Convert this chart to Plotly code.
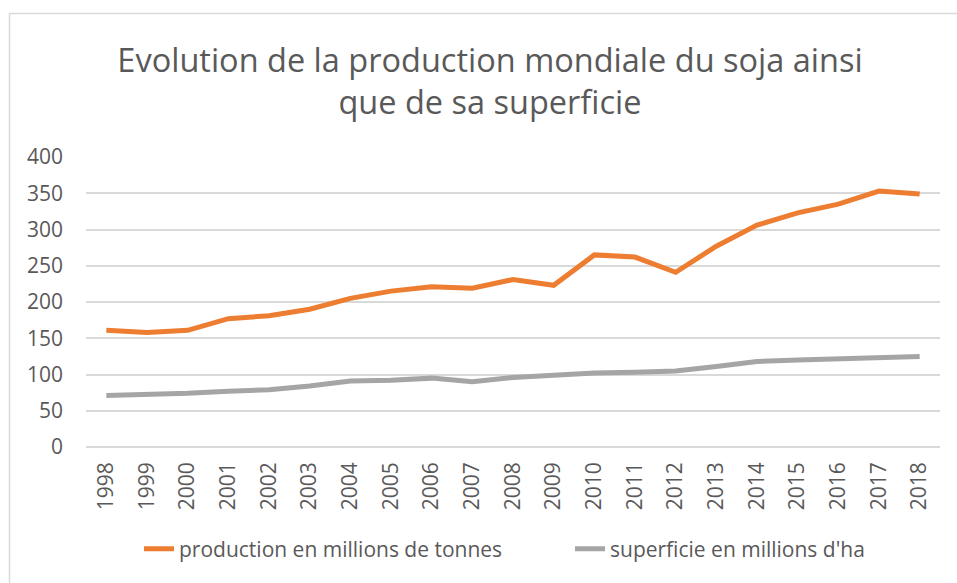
import plotly.graph_objects as go

years = [str(y) for y in range(1998, 2019)]
production = [161, 158, 161, 177, 181, 190, 205, 215, 221, 219, 231,
              223, 265, 262, 241, 277, 306, 323, 335, 353, 349]
superficie = [71, 72, 74, 77, 79, 84, 91, 92, 95, 90, 96,
              99, 102, 103, 105, 111, 118, 120, 122, 124, 125]
y_ticks = [0, 50, 100, 150, 200, 250, 300, 350, 400]

FONT = "Open Sans, sans-serif"
TEXT = "#595959"
GRID = "#d9d9d9"

fig = go.Figure()
fig.add_trace(go.Scatter(x=years, y=production, mode="lines",
                         name="production en millions de tonnes",
                         line=dict(color="#ED7D31", width=5),
                         legend="legend"))
fig.add_trace(go.Scatter(x=years, y=superficie, mode="lines",
                         name="superficie en millions d'ha",
                         line=dict(color="#A5A5A5", width=5),
                         legend="legend2"))

W, H = 957, 583
L, R, T, B = 86, 17, 157, 136
pw, ph = W - L - R, H - T - B

def px_x(p):
    return (p - L) / pw

def px_y(p):
    return (H - B - p) / ph

# chart-area frame (top and left edges visible)
fig.add_shape(type="line", xref="paper", yref="paper",
              x0=px_x(9.5), x1=px_x(W + 5), y0=px_y(13.5), y1=px_y(13.5),
              line=dict(color="#d9d9d9", width=1.5))
fig.add_shape(type="line", xref="paper", yref="paper",
              x0=px_x(9.5), x1=px_x(9.5), y0=px_y(13.5), y1=px_y(H + 5),
              line=dict(color="#d9d9d9", width=1.5))

legend_style = dict(orientation="h", xanchor="left", yanchor="middle",
                    y=px_y(549), font=dict(family=FONT, size=21, color=TEXT),
                    itemwidth=30, bgcolor="rgba(0,0,0,0)")

fig.update_layout(
    width=W, height=H,
    margin=dict(l=L, r=R, t=T, b=B, autoexpand=False),
    paper_bgcolor="white", plot_bgcolor="white",
    font=dict(family=FONT, color=TEXT, size=21),
    title=dict(text="Evolution de la production mondiale du soja ainsi<br>que de sa superficie",
               x=490 / W, xanchor="center",
               y=1 - 72 / H, yanchor="middle",
               font=dict(family=FONT, size=32.5, color=TEXT)),
    showlegend=True,
    legend=dict(x=px_x(139), **legend_style),
    legend2=dict(x=px_x(570), **legend_style),
    xaxis=dict(type="category", tickangle=-90, showgrid=False,
               showline=False, ticks="", ticklabelstandoff=10,
               tickfont=dict(family=FONT, size=21, color=TEXT),
               range=[-0.5, 20.5]),
    yaxis=dict(range=[0, 400], tickvals=y_ticks, showgrid=True,
               gridcolor=GRID, gridwidth=1.5, zeroline=True,
               zerolinecolor=GRID, zerolinewidth=1.5, showline=False,
               ticks="", ticklabelstandoff=22,
               tickfont=dict(family=FONT, size=21, color=TEXT)),
)

fig.write_html("out.html")
